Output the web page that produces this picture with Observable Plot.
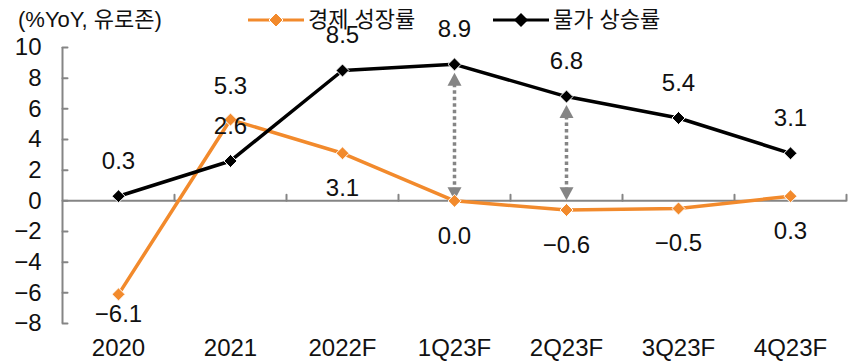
<!DOCTYPE html>
<html>
<head>
<meta charset="utf-8">
<script src="https://cdn.jsdelivr.net/npm/d3@7"></script>
<script src="https://cdn.jsdelivr.net/npm/@observablehq/plot@0.6"></script>
<style>
  body { margin: 0; background: #fff; }
  #wrap { position: relative; width: 856px; height: 361px; font-family: "Liberation Sans", "Noto Sans CJK KR", sans-serif; color: #111; }
  #unit { position: absolute; left: 18px; top: 4px; font-size: 22px; line-height: 32px; }
  .leg { position: absolute; top: 4px; font-size: 22px; line-height: 32px; display: flex; align-items: center; }
  .leg svg { margin-right: 4px; }
</style>
</head>
<body>
<div id="wrap">
  <div id="unit">(%YoY, 유로존)</div>
  <div class="leg" style="left:248px"><svg width="56" height="14"><line x1="0" y1="7" x2="56" y2="7" stroke="#F28A2C" stroke-width="3"/><path d="M28,0L35,7L28,14L21,7Z" fill="#F28A2C" stroke="#fff" stroke-width="1"/></svg>경제 성장률</div>
  <div class="leg" style="left:493px"><svg width="56" height="14"><line x1="0" y1="7" x2="56" y2="7" stroke="#000" stroke-width="3"/><path d="M28,0L35,7L28,14L21,7Z" fill="#000"/></svg>물가 상승률</div>
</div>
<script>
// Euro area: real GDP growth vs. consumer price inflation (% YoY)
const periods = ["2020", "2021", "2022F", "1Q23F", "2Q23F", "3Q23F", "4Q23F"];
const growth = [-6.1, 5.3, 3.1, 0.0, -0.6, -0.5, 0.3];
const inflation = [0.3, 2.6, 8.5, 8.9, 6.8, 5.4, 3.1];
const gapPeriods = ["1Q23F", "2Q23F"];
const yTicks = [-8, -6, -4, -2, 0, 2, 4, 6, 8, 10];

const ORANGE = "#F28A2C";
const GRAY = "#858585";
const FONT = "'Liberation Sans', 'Noto Sans CJK KR', sans-serif";
const FS = 24;

const idx = periods.map((_, i) => i);
const rows = idx.map(i => ({i, period: periods[i], growth: growth[i], inflation: inflation[i]}));
const gaps = gapPeriods.map(p => rows[periods.indexOf(p)]);
const bounds = d3.range(periods.length).map(i => i + 0.5);
const fmt = v => d3.format(".1f")(v).replace("-", "\u2212");

// Rotated-square marker, and small tick / triangle shapes
const diamond = {draw(ctx, size) { const h = Math.sqrt(size / 2); ctx.moveTo(0, -h); ctx.lineTo(h, 0); ctx.lineTo(0, h); ctx.lineTo(-h, 0); ctx.closePath(); }};
const triUp = {draw(ctx) { ctx.moveTo(0, -6.5); ctx.lineTo(7, 6.5); ctx.lineTo(-7, 6.5); ctx.closePath(); }};
const triDown = {draw(ctx) { ctx.moveTo(0, 6.5); ctx.lineTo(7, -6.5); ctx.lineTo(-7, -6.5); ctx.closePath(); }};
const tickShape = {draw(ctx, l) { ctx.moveTo(0, 0); ctx.lineTo(0, -l); }};

// Orange labels sit under the point, except where growth tops inflation
const isFirst = d => d.i === 0;
const growthAbove = d => d.i > 0 && d.growth > d.inflation;
const growthBelow = d => d.i > 0 && d.growth <= d.inflation;

const chart = Plot.plot({
  width: 856,
  height: 361,
  marginLeft: 62,
  marginRight: 10,
  marginTop: 47,
  marginBottom: 38,
  style: {fontFamily: FONT, fontSize: FS + "px", color: "#111", background: "transparent"},
  x: {domain: [-0.5, periods.length - 0.5], label: null},
  y: {domain: [-8, 10], label: null},
  marks: [
    // axes: labels only, lines and inward ticks drawn below
    Plot.axisY({ticks: yTicks, tickSize: 0, tickPadding: 21, tickFormat: d => d3.format("d")(d), fontSize: FS, label: null}),
    Plot.axisX({ticks: idx, tickSize: 0, tickPadding: 15, tickFormat: i => periods[i], fontSize: FS, label: null}),
    Plot.ruleX([-0.5], {y1: -8, y2: 10, stroke: GRAY, strokeWidth: 2}),
    Plot.vector(yTicks, {x: -0.5, y: d => d, length: 5, rotate: 90, anchor: "start", shape: tickShape, stroke: GRAY, strokeWidth: 2}),
    Plot.ruleY([0], {x1: -0.5, x2: periods.length - 0.5, stroke: GRAY, strokeWidth: 2}),
    Plot.vector(bounds, {x: d => d, y: 0, length: 6, anchor: "start", shape: tickShape, stroke: GRAY, strokeWidth: 2}),

    // gap arrows between inflation and zero growth
    Plot.ruleX(gaps, {x: "i", y1: "inflation", y2: 0, insetTop: 20, insetBottom: 12, stroke: GRAY, strokeWidth: 3.5, strokeDasharray: "3.5,3"}),
    Plot.dot(gaps, {x: "i", y: "inflation", dy: 15, symbol: triUp, r: 6, fill: GRAY, stroke: "none"}),
    Plot.dot(gaps, {x: "i", y: 0, dy: -7, symbol: triDown, r: 6, fill: GRAY, stroke: "none"}),

    // series
    Plot.line(rows, {x: "i", y: "growth", stroke: ORANGE, strokeWidth: 3.5}),
    Plot.dot(rows, {x: "i", y: "growth", symbol: diamond, r: 5.2, fill: ORANGE, stroke: "#fff", strokeWidth: 1}),
    Plot.line(rows, {x: "i", y: "inflation", stroke: "#000", strokeWidth: 3.5}),
    Plot.dot(rows, {x: "i", y: "inflation", symbol: diamond, r: 5.2, fill: "#000", stroke: "#fff", strokeWidth: 1}),

    // value labels
    Plot.text(rows, {x: "i", y: "inflation", text: d => fmt(d.inflation), dy: -35, fontSize: FS, fill: "#111"}),
    Plot.text(rows, {filter: growthBelow, x: "i", y: "growth", text: d => fmt(d.growth), dy: 35, fontSize: FS, fill: "#111"}),
    Plot.text(rows, {filter: growthAbove, x: "i", y: "growth", text: d => fmt(d.growth), dy: -33, fontSize: FS, fill: "#111"}),
    Plot.text(rows, {filter: isFirst, x: "i", y: "growth", text: d => fmt(d.growth), dy: 20, fontSize: FS, fill: "#111"})
  ]
});
document.getElementById("wrap").appendChild(chart);
chart.style.position = "absolute";
chart.style.left = "0";
chart.style.top = "0";
</script>
</body>
</html>
